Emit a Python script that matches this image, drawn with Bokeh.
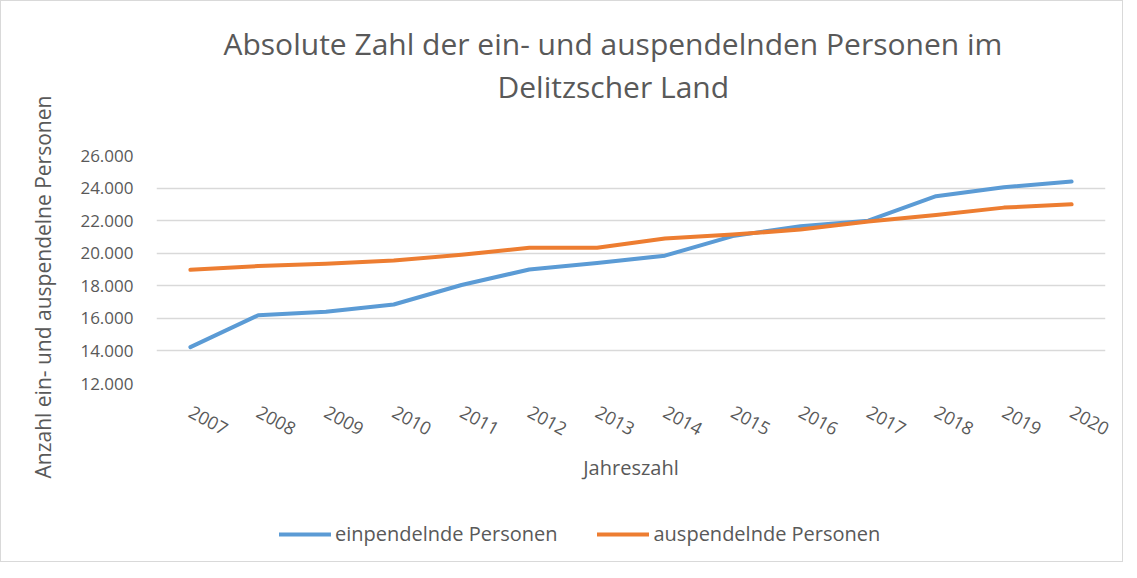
from bokeh.plotting import figure
from bokeh.layouts import column
from bokeh.models import (Range1d, FactorRange, Legend, LegendItem, Title,
                          FixedTicker, CustomJSTickFormatter, ColumnDataSource)
from bokeh.embed import file_html
from bokeh.resources import INLINE

years = ["2007", "2008", "2009", "2010", "2011", "2012", "2013",
         "2014", "2015", "2016", "2017", "2018", "2019", "2020"]
einpendelnde = [14230, 16190, 16400, 16850, 18050, 19000, 19400,
                19850, 21050, 21650, 22000, 23500, 24050, 24400]
auspendelnde = [18980, 19210, 19350, 19550, 19900, 20330, 20330,
                20900, 21150, 21450, 21950, 22350, 22800, 23000]
y_ticks = [12000, 14000, 16000, 18000, 20000, 22000, 24000, 26000]

title_lines = ["Absolute Zahl der ein- und auspendelnden Personen im", "Delitzscher Land"]
x_title = "Jahreszahl"
y_title = "Anzahl ein- und auspendelne Personen"
series_names = ["einpendelnde Personen", "auspendelnde Personen"]

FONT = "Open Sans"
GREY = "#595959"
BLUE = "#5B9BD5"
ORANGE = "#ED7D31"

src = ColumnDataSource(data=dict(year=years, ein=einpendelnde, aus=auspendelnde))

# ---- main chart ----
p = figure(width=1121, height=518, output_backend="svg", toolbar_location=None,
           x_range=FactorRange(*years), y_range=Range1d(12000, 26000),
           min_border_left=155, min_border_right=17, min_border_top=154, min_border_bottom=136)
p.outline_line_color = None
p.background_fill_color = "white"
p.border_fill_color = "white"

p.xgrid.grid_line_color = None
p.ygrid.grid_line_color = "#d9d9d9"
p.ygrid.grid_line_width = 1.3

p.yaxis.ticker = FixedTicker(ticks=y_ticks)
p.yaxis.formatter = CustomJSTickFormatter(
    code="return Math.round(tick).toString().replace(/\\B(?=(\\d{3})+(?!\\d))/g, '.');")
for ax in (p.xaxis[0], p.yaxis[0]):
    ax.axis_line_color = None
    ax.major_tick_line_color = None
    ax.minor_tick_line_color = None
    ax.major_tick_out = 0
    ax.major_tick_in = 0
    ax.minor_tick_out = 0
    ax.major_label_text_font = FONT
    ax.major_label_text_color = GREY
    ax.axis_label_text_font = FONT
    ax.axis_label_text_color = GREY
    ax.axis_label_text_font_size = "20px"
    ax.axis_label_text_font_style = "normal"
p.yaxis.major_label_text_font_size = "17px"
p.yaxis.major_label_standoff = 23
p.xaxis.major_label_text_font_size = "18px"
p.xaxis.major_label_orientation = -0.5
p.xaxis.major_label_standoff = 27
p.xaxis.axis_label = x_title
p.xaxis.axis_label_standoff = 9
p.x_range.range_padding = 0
p.x_range.factor_padding = 0

p.line(x="year", y="ein", source=src, line_color=BLUE, line_width=4,
       line_join="round", line_cap="round")
p.line(x="year", y="aus", source=src, line_color=ORANGE, line_width=4,
       line_join="round", line_cap="round")

# y axis title, placed as a side title so it can sit lower than the frame centre
ty = Title(text=y_title, align="left", offset=-95, vertical_align="bottom",
           text_font=FONT, text_font_size="21px", text_font_style="normal",
           text_color=GREY, standoff=41)
p.add_layout(ty, "left")

spacer = Title(text=" ", text_font_size="10px", standoff=36)
t2 = Title(text=title_lines[1], align="left", offset=341, text_font=FONT, text_font_size="30px",
           text_font_style="normal", text_color=GREY, standoff=0)
t1 = Title(text=title_lines[0], align="left", offset=67, text_font=FONT, text_font_size="30px",
           text_font_style="normal", text_color=GREY, standoff=0)
p.add_layout(spacer, "above")
p.add_layout(t2, "above")
p.add_layout(t1, "above")

# ---- legend strip ----
q = figure(width=1121, height=42, output_backend="svg", toolbar_location=None,
           x_range=FactorRange(*years), y_range=Range1d(0, 1),
           min_border_left=0, min_border_right=0, min_border_top=0, min_border_bottom=0)
q.axis.visible = False
q.grid.visible = False
q.outline_line_color = None
q.background_fill_color = "white"
q.border_fill_color = "white"
l1 = q.line(x="year", y="ein", source=src, line_color=BLUE, line_width=4, line_cap="round")
l2 = q.line(x="year", y="aus", source=src, line_color=ORANGE, line_width=4, line_cap="round")
legend = Legend(items=[LegendItem(label=series_names[0], renderers=[l1]),
                       LegendItem(label=series_names[1], renderers=[l2])],
                location=(123, 14), orientation="horizontal",
                glyph_width=52, glyph_height=20, label_standoff=4, spacing=40,
                padding=0, margin=0, border_line_color=None, background_fill_alpha=0,
                label_text_font=FONT, label_text_color=GREY, label_text_font_size="20px")
q.add_layout(legend)

layout = column(p, q, spacing=0)
layout.styles = {"border": "1px solid #d9d9d9"}

open("out.html", "w").write(file_html(layout, INLINE))
